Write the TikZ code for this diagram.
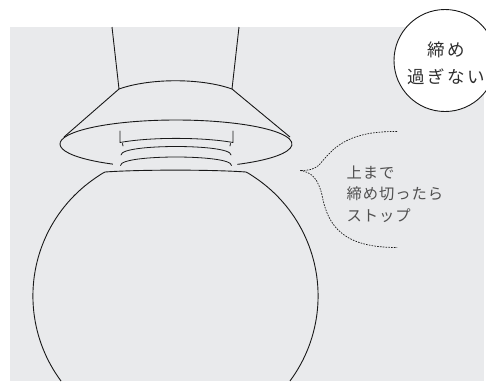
\documentclass[tikz,border=0pt]{standalone}
\usepackage{fontspec}
\usepackage{tikz}
\newfontfamily\jpnote[LetterSpace=6]{Noto Sans CJK JP}
\newfontfamily\jpsign[LetterSpace=15]{Noto Sans CJK JP}
\definecolor{panel}{RGB}{233,234,236}
\definecolor{ink}{RGB}{25,25,25}
\definecolor{notegray}{RGB}{80,80,80}

\begin{document}
\begin{tikzpicture}[x=1pt,y=-1pt,
    outline/.style={draw=ink,line width=0.9pt,line join=round},
    thread/.style={draw=ink,line width=0.8pt,line cap=round},
    bubble/.style={draw=ink,line width=0.7pt,dash pattern=on 1.6pt off 1.2pt}]

    \useasboundingbox (0,0) rectangle (486,381);
    \clip (0,0) rectangle (486,381);

    \fill[panel] (10,27) rectangle (484,381);

    % pipe coming down from the ceiling
    \draw[outline] (112,27) -- (119,89);
    \draw[outline] (239,27) -- (232,89);

    % shade: top rim, sides and brim
    \draw[outline] (119,89) .. controls (150,78) and (201,78) .. (232,89);
    \draw[outline] (119,89) -- (64,137);
    \draw[outline] (232,89) -- (290,137);
    \draw[outline] ([shift={(176,144)}]123:116 and 24)
      arc[start angle=123,end angle=418,x radius=116,y radius=24];

    % socket thread
    \draw[thread] (120,131) -- (120,142.5)
      .. controls (150,137) and (202,137) .. (233,142.5) -- (233,131);
    \draw[thread] (122.5,143.5) -- (123,146);
    \draw[thread] (230.5,143.5) -- (230,146);
    \draw[thread] (121,155) .. controls (121,149) and (150,146.5) .. (176,146.5)
      .. controls (202,146.5) and (231,149) .. (231,155);
    \draw[thread] (120.5,165.5) .. controls (120.5,159.5) and (150,157) .. (176,157)
      .. controls (202,157) and (231.5,159.5) .. (231.5,165.5);

    % glass globe
    \draw[outline] ([shift={(175.5,296)}]143.4:142.6)
      arc[start angle=143.4,end angle=234.4,radius=142.6]
      .. controls (100.7,174.2) and (103,173) .. (105,172)
      .. controls (140,169.5) and (211,169.5) .. (246,172)
      .. controls (248,173) and (250.3,174.2) .. (258.5,180)
      arc[start angle=305.6,end angle=396.6,radius=142.6];

    % dashed callout
    \draw[bubble] (397,131.5) .. controls (345,131) and (332,150) .. (320,164)
      .. controls (314,170) and (308,170.5) .. (300,170.5)
      .. controls (312,172) and (318,179) .. (322,195)
      .. controls (328,228) and (345,247.5) .. (397,247.5);
    \node[anchor=north west,inner sep=0,align=left,text=notegray,
      font=\jpnote\fontsize{15.3}{21.5}\selectfont] (stopnote) at (346.5,165.5)
      {上まで\\締め切ったら\\ストップ};

    % warning badge
    \filldraw[fill=white,draw=ink,line width=0.9pt] (445,60.5) circle[radius=51];
    \node[align=center,inner sep=0,text=ink!90,
      font=\jpsign\fontsize{17.5}{26.7}\selectfont] (warnsign) at (446,63.5)
      {締め\\過ぎない};

\end{tikzpicture}
\end{document}
